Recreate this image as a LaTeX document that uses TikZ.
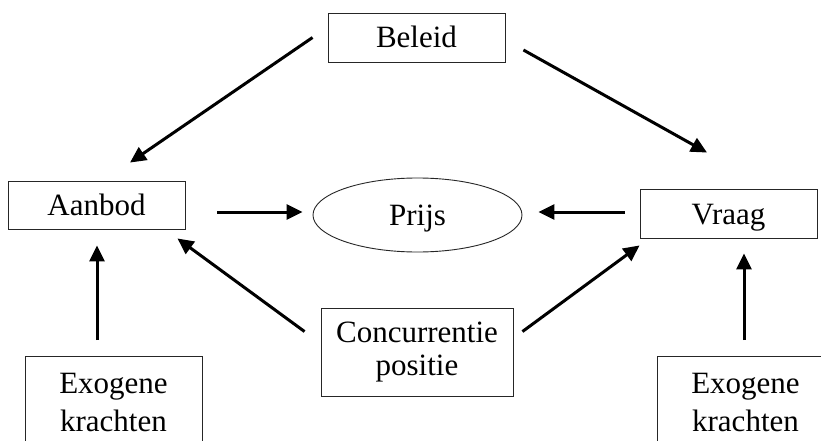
\documentclass[tikz,border=0pt]{standalone}
\usepackage{fontspec}
\setmainfont{Liberation Serif}
\usetikzlibrary{arrows.meta,shapes.geometric,calc}
\newcommand{\fsone}{\fontsize{31}{37}\selectfont}
\newcommand{\fsconc}{\fontsize{31}{33}\selectfont}
\newcommand{\fsexo}{\fontsize{31}{38}\selectfont}
\begin{document}
\begin{tikzpicture}[x=1pt,y=-1pt,
  frame/.style={draw=black!85,line width=0.9pt,rectangle,inner sep=0pt},
  box/.style={frame,minimum width=177pt,minimum height=49pt,font=\fsone,text height=21pt,text depth=0pt},
  arr/.style={line width=3pt,-{Triangle[length=16pt,width=15pt]}}]
\clip (0,0) rectangle (821,441);
\fill[white] (0,0) rectangle (821,441);
% nodes
\node[box] (beleid) at (416.5,37.5) {Beleid};
\node[box,minimum height=48pt] (aanbod) at (96.5,205) {Aanbod};
\node[box] (vraag) at (728.5,213.5) {Vraag};
\node[draw=black!85,line width=0.9pt,ellipse,inner sep=0pt,minimum width=209pt,minimum height=74pt,font=\fsone,text height=21pt,text depth=0pt] (prijs) at (417.5,215) {Prijs};
\node[frame,minimum width=192pt,minimum height=88pt,align=center,font=\fsconc] (conc) at (417,352) {Concurrentie\\positie};
\node[frame,minimum width=177pt,minimum height=130pt,anchor=north] (exoL) at (113.5,356) {};
\node[align=center,font=\fsexo,inner sep=0pt] (exoLt) at (113.5,402) {Exogene\\krachten};
\node[frame,minimum width=177pt,minimum height=130pt,anchor=north] (exoR) at (745.5,356) {};
\node[align=center,font=\fsexo,inner sep=0pt] (exoRt) at (745.5,402) {Exogene\\krachten};
% connectors
\draw[arr] ($(beleid.west)+(-15,0)$) -- ($(aanbod.north)+(33.5,-18)$);
\draw[arr] ($(beleid.east)+(18,12.5)$) -- ($(vraag.north)+(-21.5,-36)$);
\draw[arr] ($(aanbod.east)+(32,7)$) -- ($(prijs.west)+(-10,-3)$);
\draw[arr] ($(vraag.west)+(-15,-1.5)$) -- ($(prijs.east)+(16,-3)$);
\draw[arr] ($(conc.north west)+(-16,24)$) -- ($(aanbod.south east)+(-8,9)$);
\draw[arr] ($(conc.north east)+(9,24)$) -- ($(vraag.south west)+(0,7)$);
\draw[arr] ($(exoL.north)+(-16.5,-16)$) -- ($(aanbod.south)+(0.5,16)$);
\draw[arr] ($(exoR.north)+(-1.5,-16)$) -- ($(vraag.south)+(15.5,15)$);
\end{tikzpicture}
\end{document}
